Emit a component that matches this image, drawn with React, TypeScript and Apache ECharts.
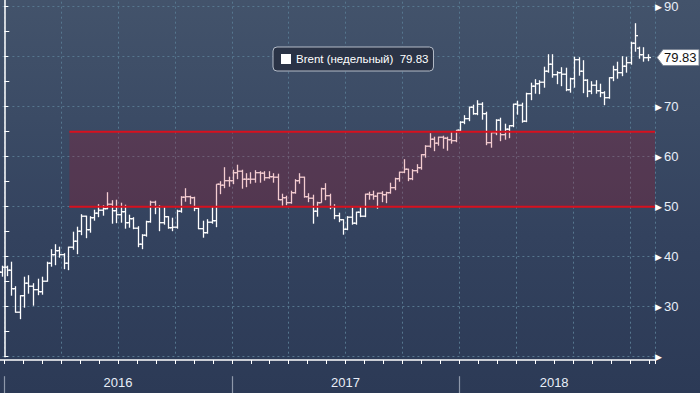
import React, { useEffect, useRef } from "react";
import * as echarts from "echarts";

// ---- Data: Brent weekly OHLC (week-ending Fridays, first week ends 2015-12-18)
const firstWeekEnd = "2015-12-18";
const opens = [
  38.0, 36.9, 37.9, 37.3, 33.6, 28.9, 32.2, 34.7, 34.1, 33.4, 33.0, 35.1, 38.7, 40.4, 41.2, 40.4, 38.7, 41.9, 43.1, 45.1,
  48.1, 45.4, 47.8, 48.7, 49.3, 49.6, 50.5, 49.2, 48.4, 49.0, 46.8, 47.6, 45.7, 42.5, 44.3, 47.0, 50.9, 49.9, 46.8, 48.0,
  45.8, 45.9, 49.1, 51.9, 52.0, 51.8, 49.7, 45.6, 44.8, 46.9, 47.2, 54.5, 54.3, 55.2, 55.2, 56.8, 57.1, 55.5, 55.5, 55.5,
  56.8, 56.7, 55.8, 56.0, 55.9, 51.4, 51.8, 50.8, 52.8, 55.2, 55.9, 52.0, 51.7, 49.1, 50.8, 53.6, 52.2, 50.0, 48.2, 47.4,
  45.5, 47.9, 46.7, 48.9, 48.1, 52.5, 52.4, 52.1, 52.7, 52.4, 52.8, 53.8, 55.6, 56.9, 57.5, 55.6, 57.2, 57.8, 60.4, 62.1,
  63.5, 62.7, 63.9, 63.7, 63.4, 63.2, 65.3, 66.9, 67.6, 69.9, 68.6, 70.5, 68.6, 62.8, 64.8, 67.3, 64.4, 65.5, 66.2, 70.5,
  70.3, 67.1, 72.6, 74.1, 74.6, 74.9, 77.1, 78.5, 76.4, 76.8, 76.5, 73.4, 75.6, 79.4, 77.1, 75.3, 73.1, 74.3, 73.2, 72.8,
  71.8, 75.8, 77.4, 76.8, 78.1, 78.8, 82.7, 81.7, 80.4, 79.8,
];
const highs = [
  39.4, 38.2, 38.2, 39.0, 34.1, 32.3, 36.0, 36.3, 34.7, 35.6, 36.0, 39.0, 41.5, 42.5, 42.0, 40.7, 42.0, 45.0, 46.0, 48.5,
  48.2, 48.1, 49.4, 50.5, 50.3, 52.9, 51.3, 51.4, 50.8, 50.4, 48.4, 47.9, 46.1, 44.5, 47.2, 51.2, 51.2, 50.3, 49.9, 48.1,
  47.8, 49.4, 52.1, 53.7, 52.2, 52.0, 49.8, 47.2, 47.5, 49.9, 54.5, 55.1, 57.9, 56.0, 57.4, 58.4, 57.4, 56.7, 56.9, 57.3,
  57.1, 57.1, 57.1, 56.7, 56.6, 52.6, 52.2, 53.2, 55.5, 56.7, 56.0, 52.7, 52.4, 51.0, 53.8, 54.7, 52.6, 50.5, 48.8, 47.5,
  48.1, 49.8, 49.0, 50.1, 52.6, 53.0, 53.2, 52.8, 53.1, 53.0, 54.8, 55.8, 57.0, 59.5, 57.6, 57.5, 58.5, 60.5, 62.3, 64.7,
  64.0, 64.0, 64.2, 64.0, 65.0, 65.3, 67.1, 68.3, 70.0, 70.4, 71.3, 70.9, 69.0, 64.9, 67.5, 67.8, 66.6, 66.3, 70.6, 71.2,
  70.8, 72.8, 74.8, 75.5, 75.3, 78.0, 80.5, 80.5, 77.1, 77.9, 77.8, 75.8, 80.0, 79.9, 79.3, 75.5, 75.1, 75.3, 74.6, 73.1,
  75.9, 78.2, 79.0, 80.1, 80.0, 83.0, 86.7, 82.0, 81.9, 80.5,
];
const lows = [
  36.3, 36.0, 36.1, 32.2, 28.8, 27.5, 29.8, 32.6, 30.2, 32.3, 32.4, 35.0, 38.0, 38.3, 39.8, 37.5, 37.3, 41.4, 40.5, 44.3,
  43.7, 44.8, 47.2, 47.9, 48.2, 49.5, 46.6, 46.7, 46.8, 45.6, 45.8, 45.5, 41.9, 41.5, 44.0, 46.8, 48.5, 45.1, 46.4, 45.6,
  45.1, 45.6, 48.8, 51.0, 50.5, 49.1, 45.5, 43.8, 44.6, 46.6, 45.9, 52.5, 53.7, 54.0, 54.5, 55.5, 53.6, 53.9, 54.6, 54.8,
  54.8, 55.2, 55.6, 54.8, 51.3, 50.2, 50.3, 50.6, 52.6, 54.6, 51.8, 50.9, 46.6, 48.0, 50.8, 51.3, 49.5, 47.5, 46.9, 44.4,
  45.3, 46.4, 46.4, 47.9, 47.9, 51.4, 51.4, 49.6, 50.9, 50.7, 52.6, 53.3, 55.0, 56.7, 55.1, 55.3, 56.7, 57.4, 59.8, 61.8,
  61.1, 62.2, 61.6, 61.2, 62.6, 62.9, 65.0, 66.5, 67.1, 68.4, 68.3, 67.4, 62.3, 61.8, 64.3, 63.1, 63.4, 63.7, 65.9, 68.4,
  66.8, 66.9, 71.3, 72.6, 72.5, 73.8, 76.8, 75.8, 74.5, 74.1, 73.1, 72.8, 73.8, 76.2, 72.7, 71.9, 72.5, 72.6, 71.9, 70.3,
  71.6, 75.1, 75.6, 76.1, 76.8, 78.4, 81.0, 79.6, 79.0, 79.1,
];
const closes = [
  36.9, 37.9, 37.3, 33.6, 28.9, 32.2, 34.7, 34.1, 33.4, 33.0, 35.1, 38.7, 40.4, 41.2, 40.4, 38.7, 41.9, 43.1, 45.1, 48.1,
  45.4, 47.8, 48.7, 49.3, 49.6, 50.5, 49.2, 48.4, 49.0, 46.8, 47.6, 45.7, 42.5, 44.3, 47.0, 50.9, 49.9, 46.8, 48.0, 45.8,
  45.9, 49.1, 51.9, 52.0, 51.8, 49.7, 45.6, 44.8, 46.9, 47.2, 54.5, 54.3, 55.2, 55.2, 56.8, 57.1, 55.5, 55.5, 55.5, 56.8,
  56.7, 55.8, 56.0, 55.9, 51.4, 51.8, 50.8, 52.8, 55.2, 55.9, 52.0, 51.7, 49.1, 50.8, 53.6, 52.2, 50.0, 48.2, 47.4, 45.5,
  47.9, 46.7, 48.9, 48.1, 52.5, 52.4, 52.1, 52.7, 52.4, 52.8, 53.8, 55.6, 56.9, 57.5, 55.6, 57.2, 57.8, 60.4, 62.1, 63.5,
  62.7, 63.9, 63.7, 63.4, 63.2, 65.3, 66.9, 67.6, 69.9, 68.6, 70.5, 68.6, 62.8, 64.8, 67.3, 64.4, 65.5, 66.2, 70.5, 70.3,
  67.1, 72.6, 74.1, 74.6, 74.9, 77.1, 78.5, 76.4, 76.8, 76.5, 73.4, 75.6, 79.4, 77.1, 75.3, 73.1, 74.3, 73.2, 72.8, 71.8,
  75.8, 77.4, 76.8, 78.1, 78.8, 82.7, 84.2, 80.4, 79.8, 79.83,
];

const seriesName = "Brent (недельный)";
const yearLabelMonths = [6, 18, 29];
const yearLabels = ["2016", "2017", "2018"];
const yearStartMonths = [0, 12, 24];
const yTickValues = [20, 30, 40, 50, 60, 70, 80, 90];
const bandStartDate = "2016-04-14";
const bandLow = 50;
const bandHigh = 65;

// ---- helpers
const DAY = 86400000;
const BAR_DAY_SHIFT = 4;
const monthOf = (t: number) => {
  const d = new Date(t);
  const y = d.getUTCFullYear();
  const mo = d.getUTCMonth();
  const s = Date.UTC(y, mo, 1);
  const n = Date.UTC(y, mo + 1, 1);
  return (y - 2016) * 12 + mo + (t - s) / (n - s);
};
const parseDate = (s: string) => {
  const [y, m, d] = s.split("-").map(Number);
  return Date.UTC(y, m - 1, d);
};

const X_MIN = -3;
const X_MAX = 34.32;
const FONT = "'Liberation Sans', Arial, sans-serif";

export default function App() {
  const ref = useRef<HTMLDivElement>(null);
  useEffect(() => {
    if (!ref.current) return;
    const chart = echarts.init(ref.current, undefined, { renderer: "svg" });
    const start = parseDate(firstWeekEnd);
    const ohlc = closes.map((c, i) => [
      monthOf(start + (i * 7 + BAR_DAY_SHIFT) * DAY),
      opens[i],
      highs[i],
      lows[i],
      c,
    ]);
    const last = ohlc[ohlc.length - 1];
    const lastClose = closes[closes.length - 1];
    const gridLine = { show: true, lineStyle: { color: "#56778f", type: [2, 3], width: 1 } };

    chart.setOption({
      animation: false,
      backgroundColor: {
        type: "linear", x: 0, y: 0, x2: 0, y2: 1,
        colorStops: [
          { offset: 0, color: "#43536b" },
          { offset: 0.3, color: "#3b4b65" },
          { offset: 0.6, color: "#33425e" },
          { offset: 1, color: "#2c3a56" },
        ],
      },
      grid: { left: -52.58, right: 45, top: -18.3, bottom: 36.3, containLabel: false, outerBoundsMode: "none" },
      legend: {
        data: [seriesName],
        left: 273, top: 47,
        icon: "rect", itemWidth: 10, itemHeight: 10, itemGap: 6,
        padding: [6, 5, 6, 8],
        backgroundColor: "#2a3346",
        borderColor: "#b4bcc8", borderWidth: 1, borderRadius: 4,
        textStyle: { color: "#ffffff", fontSize: 11.5, fontFamily: FONT },
        formatter: (name: string) => `${name}  ${lastClose.toFixed(2)}`,
      },
      xAxis: [
        {
          type: "value", min: X_MIN, max: X_MAX, interval: 1, position: "bottom", offset: 3.3,
          axisLine: { show: true, onZero: false, lineStyle: { color: "#ffffff", width: 1.5 } },
          axisTick: { show: true, length: 4, lineStyle: { color: "#ffffff", width: 1 } },
          splitLine: { show: false },
          axisLabel: {
            margin: 16, color: "#e8eef8", fontSize: 13, fontFamily: FONT,
            formatter: (v: number) => {
              const i = yearLabelMonths.findIndex((m) => Math.abs(m - v) < 1e-6);
              return i >= 0 ? yearLabels[i] : "";
            },
          },
        },
        {
          type: "value", min: X_MIN, max: X_MAX, interval: 3, position: "bottom",
          axisLine: { show: false, onZero: false }, axisTick: { show: false }, axisLabel: { show: false },
          splitLine: gridLine,
        },
      ],
      yAxis: {
        type: "value", position: "right", min: 20, max: 95, interval: 10,
        axisLine: { show: true, lineStyle: { color: "#ffffff", width: 1.5 } },
        axisTick: { show: true, length: 4, lineStyle: { color: "#ffffff" } },
        minorTick: { show: true, splitNumber: 2, length: 5, lineStyle: { color: "#ffffff", width: 1 } },
        splitLine: gridLine,
        axisLabel: {
          margin: 0,
          formatter: (v: number) => {
            if (!yTickValues.includes(v)) return "";
            // the last-value tag covers the label next to it
            if (Math.abs(v - lastClose) < 4) return "";
            return v === yTickValues[0] ? "{t|▶}" : `{t|▶}{v|${v}}`;
          },
          rich: {
            t: { fontSize: 9, color: "#ffffff", fontFamily: "DejaVu Sans", padding: [0, 2, 0, 0] },
            v: { fontSize: 13, color: "#e8eef8", fontFamily: FONT },
          },
        },
      },
      series: [
        {
          name: seriesName, type: "custom", z: 2, clip: false,
          itemStyle: { color: "#ffffff" },
          encode: { x: 0, y: [1, 2, 3, 4] },
          data: ohlc,
          renderItem: (params: any, api: any) => {
            const x = api.value(0);
            const pH = api.coord([x, api.value(2)]);
            const pL = api.coord([x, api.value(3)]);
            const pO = api.coord([x, api.value(1)]);
            const pC = api.coord([x, api.value(4)]);
            const px = Math.round(pH[0]) + 0.5;
            const st = { stroke: "#ffffff", lineWidth: 1.3 };
            return {
              type: "group",
              children: [
                { type: "line", shape: { x1: px, y1: pH[1], x2: px, y2: pL[1] }, style: st },
                { type: "line", shape: { x1: px - 2.5, y1: pO[1], x2: px, y2: pO[1] }, style: st },
                { type: "line", shape: { x1: px, y1: pC[1], x2: px + 2.5, y2: pC[1] }, style: st },
              ],
            };
          },
        },
        {
          name: "band", type: "custom", z: 3, clip: false, silent: true,
          encode: { x: 0, y: [1, 2] },
          data: [[monthOf(parseDate(bandStartDate)), bandLow, bandHigh]],
          renderItem: (params: any, api: any) => {
            const x = api.value(0);
            const pTop = api.coord([x, api.value(2)]);
            const pBot = api.coord([x, api.value(1)]);
            const right = params.coordSys.x + params.coordSys.width;
            const red = { stroke: "#d8101e", lineWidth: 2 };
            return {
              type: "group",
              children: [
                { type: "rect", shape: { x: pTop[0], y: pTop[1], width: right - pTop[0], height: pBot[1] - pTop[1] }, style: { fill: "rgba(200,0,20,0.2)" } },
                { type: "line", shape: { x1: pTop[0], y1: pTop[1], x2: right, y2: pTop[1] }, style: red },
                { type: "line", shape: { x1: pBot[0], y1: pBot[1], x2: right, y2: pBot[1] }, style: red },
              ],
            };
          },
        },
        {
          name: "years", type: "custom", z: 2, clip: false, silent: true,
          encode: { x: 0, y: 1 },
          data: yearStartMonths.map((m) => [m, 20]),
          renderItem: (params: any, api: any) => {
            const p = api.coord([api.value(0), api.value(1)]);
            const px = Math.round(p[0]) + 0.5;
            return { type: "line", shape: { x1: px, y1: p[1] + 19.5, x2: px, y2: p[1] + 40 }, style: { stroke: "#8e98aa", lineWidth: 1.2 } };
          },
        },
        {
          name: "tag", type: "custom", z: 6, clip: false, silent: true,
          encode: { x: 0, y: 1 },
          data: [[last[0], lastClose]],
          renderItem: (params: any, api: any) => {
            const p = api.coord([api.value(0), api.value(1)]);
            const x0 = params.coordSys.x + params.coordSys.width;
            const y = p[1];
            return {
              type: "group",
              children: [
                {
                  type: "polygon",
                  shape: { points: [[x0 + 2, y], [x0 + 8, y - 8], [x0 + 44, y - 8], [x0 + 44, y + 8], [x0 + 8, y + 8]] },
                  style: { fill: "#ffffff", stroke: "#7d8796", lineWidth: 1 },
                },
                {
                  type: "text", x: x0 + 9, y,
                  style: { text: api.value(1).toFixed(2), fill: "#111111", fontSize: 13, fontFamily: FONT, verticalAlign: "middle", align: "left" },
                },
              ],
            };
          },
        },
      ],
    });
    return () => chart.dispose();
  }, []);
  return <div ref={ref} style={{ position: "fixed", left: 0, top: 0, width: 700, height: 393 }} />;
}
